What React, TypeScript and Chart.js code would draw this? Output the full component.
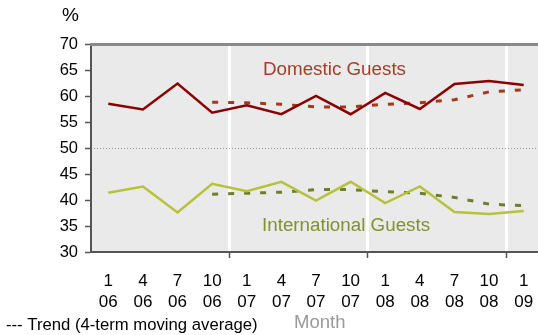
import React, { useEffect, useRef } from "react";
import { Chart, registerables } from "chart.js";

Chart.register(...registerables);

const months = ["1", "4", "7", "10", "1", "4", "7", "10", "1", "4", "7", "10", "1"];
const years = ["06", "06", "06", "06", "07", "07", "07", "07", "08", "08", "08", "08", "09"];
const domestic = [58.5, 57.4, 62.4, 56.8, 58.2, 56.5, 60.0, 56.5, 60.6, 57.5, 62.3, 62.9, 62.1];
const domesticTrend = [null, null, null, 58.8, 58.7, 58.4, 57.9, 57.9, 58.4, 58.7, 59.3, 60.8, 61.2];
const international = [41.4, 42.6, 37.6, 43.1, 41.7, 43.5, 39.9, 43.5, 39.4, 42.6, 37.7, 37.3, 37.9];
const internationalTrend = [null, null, null, 41.1, 41.3, 41.5, 42.0, 42.0, 41.6, 41.3, 40.5, 39.2, 38.9];
const yearStartIdx = [4, 8, 12];

const FONT = "'Liberation Sans', Arial, sans-serif";

const decorPlugin = {
  id: "decor",
  beforeDatasetsDraw(chart: any) {
    const { ctx, chartArea: a, scales } = chart;
    ctx.save();
    const y50 = scales.y.getPixelForValue(50);
    ctx.strokeStyle = "#9a9a9a";
    ctx.lineWidth = 1;
    ctx.setLineDash([1, 2]);
    ctx.beginPath();
    ctx.moveTo(a.left + 3, Math.round(y50) + 0.5);
    ctx.lineTo(a.right, Math.round(y50) + 0.5);
    ctx.stroke();
    ctx.restore();
  },
  beforeDraw(chart: any) {
    const { ctx, chartArea: a } = chart;
    ctx.save();
    ctx.fillStyle = "#eaeaea";
    ctx.fillRect(a.left, a.top, a.right - a.left, a.bottom - a.top);
    ctx.restore();
  },
  afterDraw(chart: any) {
    const { ctx, chartArea: a, scales } = chart;
    ctx.save();
    ctx.fillStyle = "#8a8a8a";
    ctx.fillRect(a.left - 1, a.top - 1, a.right - a.left + 1, 3);
    ctx.textBaseline = "middle";
    ctx.textAlign = "left";
    ctx.font = `19px ${FONT}`;
    ctx.fillStyle = "#000";
    ctx.fillText("%", 62, 16);
    ctx.font = `18.8px ${FONT}`;
    ctx.fillStyle = "#a3402a";
    ctx.fillText("Domestic Guests", 263, scales.y.getPixelForValue(65));
    ctx.fillStyle = "#80922f";
    ctx.fillText("International Guests", 262, scales.y.getPixelForValue(35));
    ctx.font = `16.7px ${FONT}`;
    ctx.fillStyle = "#000";
    ctx.fillText("--- Trend (4-term moving average)", 6, 325);
    ctx.font = `18.5px ${FONT}`;
    ctx.fillStyle = "#999999";
    ctx.fillText("Month", 294, 323);
    ctx.restore();
  },
};

export default function App() {
  const ref = useRef<HTMLCanvasElement | null>(null);
  useEffect(() => {
    document.body.style.margin = "0";
    const chart = new Chart(ref.current as HTMLCanvasElement, {
      type: "line",
      data: {
        labels: months.map((m, i) => [m, years[i]]),
        datasets: [
          { data: domestic, borderColor: "#8b0000", borderWidth: 2.5, pointRadius: 0, tension: 0 },
          {
            data: domesticTrend,
            borderColor: "#a3391e",
            borderWidth: 3,
            borderDash: [6, 10],
            pointRadius: 0,
            tension: 0,
          },
          { data: international, borderColor: "#b5c23a", borderWidth: 2.5, pointRadius: 0, tension: 0 },
          {
            data: internationalTrend,
            borderColor: "#6d7f2b",
            borderWidth: 3,
            borderDash: [6, 10],
            pointRadius: 0,
            tension: 0,
          },
        ],
      },
      options: {
        responsive: false,
        animation: false,
        layout: { padding: { top: 44, left: 0, right: 0, bottom: 0 } },
        plugins: { legend: { display: false }, tooltip: { enabled: false } },
        scales: {
          x: {
            offset: true,
            grid: {
              offset: true,
              color: (c: any) => (yearStartIdx.includes(c.index) ? "#ffffff" : "rgba(0,0,0,0)"),
              tickColor: (c: any) => (yearStartIdx.includes(c.index) ? "#555555" : "rgba(0,0,0,0)"),
              lineWidth: 3,
              tickWidth: 1.5,
              tickLength: 6,
            },
            border: { color: "#555555", width: 2 },
            ticks: {
              color: "#000",
              font: { family: FONT, size: 17, lineHeight: 1.22 },
              padding: 13,
              maxRotation: 0,
              autoSkip: false,
            },
            afterFit: (s: any) => {
              s.height = 83;
              s.paddingLeft = 0;
              s.paddingRight = 0;
            },
          },
          y: {
            min: 30,
            max: 70,
            ticks: {
              stepSize: 5,
              color: "#000",
              font: { family: FONT, size: 16.5 },
              padding: 7,
            },
            grid: {
              drawOnChartArea: false,
              tickColor: "#555555",
              tickLength: 6,
              tickWidth: 1.5,
            },
            border: { color: "#555555", width: 2 },
            afterFit: (s: any) => {
              s.width = 91;
              s.paddingTop = 0;
              s.paddingBottom = 0;
            },
          },
        },
      },
      plugins: [decorPlugin],
    });
    return () => chart.destroy();
  }, []);
  return (
    <div
      style={{ position: "absolute", left: 0, top: 0, width: 538, height: 335, overflow: "hidden" }}
    >
      <canvas ref={ref} width={541} height={335} style={{ width: 541, height: 335 }} />
    </div>
  );
}
